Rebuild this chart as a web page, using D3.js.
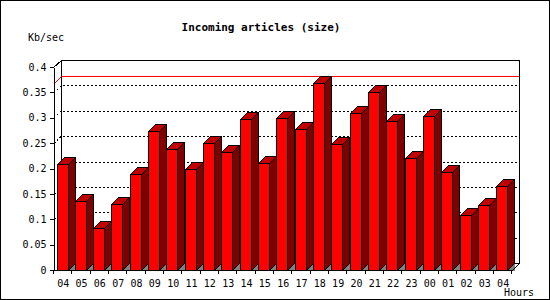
<!DOCTYPE html>
<html>
<head>
<meta charset="utf-8">
<script src="https://cdn.jsdelivr.net/npm/d3@7"></script>
<style>
  body { margin: 0; background: #fff; }
  text { font-family: "DejaVu Sans Mono", monospace; fill: #000; }
</style>
</head>
<body>
<script>
'use strict';

// hour labels along the bottom
const hours = ["04", "05", "06", "07", "08", "09", "10", "11", "12", "13", "14", "15", "16",
  "17", "18", "19", "20", "21", "22", "23", "00", "01", "02", "03", "04"];
// Kb/sec per hour
const values = [0.208, 0.135, 0.082, 0.131, 0.189, 0.273, 0.238, 0.200, 0.250, 0.232, 0.297, 0.210,
  0.299, 0.277, 0.368, 0.248, 0.309, 0.350, 0.293, 0.220, 0.303, 0.193, 0.108, 0.129, 0.165];
const yTicks = [0, 0.05, 0.1, 0.15, 0.2, 0.25, 0.3, 0.35, 0.4];
const gridTicks = [0.05, 0.1, 0.15, 0.2, 0.25, 0.3, 0.35];

const depth = 7; // 3d offset
const barW = 11;

const svg = d3.select('body').append('svg')
  .attr('width', 550)
  .attr('height', 300)
  .attr('shape-rendering', 'crispEdges');

// frame
svg.append('rect')
  .attr('x', 0.5).attr('y', 0.5)
  .attr('width', 549).attr('height', 299)
  .attr('fill', '#fff').attr('stroke', '#000');

let x = d3.scaleBand()
  .domain(d3.range(hours.length))
  .range([54, 512.3]);

let y = d3.scaleLinear()
  .domain([0, 0.4])
  .range([270, 67]);

const left = x.range()[0], right = x.range()[1];

// back wall
svg.append('rect')
  .attr('x', left + depth + 0.5).attr('y', y(0.4) - depth + 0.5)
  .attr('width', right - left).attr('height', y(0) - y(0.4))
  .attr('fill', 'none').attr('stroke', '#000');

// dotted grid on the back wall
gridTicks.forEach(function (t) {
  svg.append('path')
    .attr('d', 'M' + left + ',' + (y(t) + 0.5) + 'L' + (left + depth) + ',' + (y(t) - depth + 0.5)
      + 'L' + (right + depth) + ',' + (y(t) - depth + 0.5))
    .attr('fill', 'none')
    .attr('stroke', '#000')
    .attr('stroke-dasharray', '2,2');
});

// max line
const maxV = d3.max(values);
svg.append('path')
  .attr('d', 'M' + left + ',' + (y(maxV) + 0.5) + 'L' + (left + depth) + ',' + (y(maxV) - depth + 0.5)
    + 'L' + (right + depth) + ',' + (y(maxV) - depth + 0.5))
  .attr('fill', 'none')
  .attr('stroke', '#ff0000');

// bars
const bars = svg.append('g');
values.forEach(function (v, i) {
  const x0 = Math.round(x(i) + 2.5) + 0.5;
  const x1 = x0 + barW;
  const yt = Math.round(y(v)) + 0.5;
  const yb = y(0) + 0.5;
  // floor shadow
  bars.append('path')
    .attr('d', 'M' + x1 + ',' + yb + 'L' + (x1 + depth) + ',' + (yb - depth) + 'L' + (x1 + depth) + ',' + yb + 'Z')
    .attr('fill', '#808080');
  // side
  bars.append('path')
    .attr('d', 'M' + x1 + ',' + yt + 'L' + (x1 + depth) + ',' + (yt - depth)
      + 'L' + (x1 + depth) + ',' + (yb - depth) + 'L' + x1 + ',' + yb + 'Z')
    .attr('fill', '#800000').attr('stroke', '#000');
  // top
  bars.append('path')
    .attr('d', 'M' + x0 + ',' + yt + 'L' + (x0 + depth) + ',' + (yt - depth)
      + 'L' + (x1 + depth) + ',' + (yt - depth) + 'L' + x1 + ',' + yt + 'Z')
    .attr('fill', '#c00000').attr('stroke', '#000');
  // front
  bars.append('rect')
    .attr('x', x0).attr('y', yt)
    .attr('width', barW).attr('height', yb - yt)
    .attr('fill', '#ff0000').attr('stroke', '#000');
});

// y axis
let yAxis = d3.axisLeft(y)
  .tickValues(yTicks)
  .tickSize(4)
  .tickSizeOuter(0)
  .tickPadding(3)
  .tickFormat(d => String(d));
const gy = svg.append('g')
  .attr('transform', 'translate(' + (left - 0.5) + ',0)')
  .call(yAxis);
gy.selectAll('text').style('font-size', '10px').attr('font-family', null);
gy.select('.domain').attr('stroke', '#000');

// top-left corner diagonal
svg.append('path')
  .attr('d', 'M' + (left - 0.5) + ',' + (y(0.4) + 0.5) + 'L' + (left + depth + 0.5) + ',' + (y(0.4) - depth + 0.5))
  .attr('stroke', '#000').attr('fill', 'none');

// x axis line + floor right diagonal
svg.append('path')
  .attr('d', 'M' + left + ',' + (y(0) + 0.5) + 'L' + right + ',' + (y(0) + 0.5)
    + 'L' + (right + depth) + ',' + (y(0) - depth + 0.5))
  .attr('stroke', '#000').attr('fill', 'none');

// x ticks on slot boundaries
d3.range(hours.length + 1).forEach(function (i) {
  const tx = Math.round(left + i * x.step()) - 0.5;
  svg.append('line')
    .attr('x1', tx).attr('x2', tx)
    .attr('y1', y(0)).attr('y2', y(0) + 4)
    .attr('stroke', '#000');
});

svg.append('g').selectAll('text')
  .data(hours)
  .enter()
  .append('text')
  .attr('x', (d, i) => x(i) + x.bandwidth() / 2)
  .attr('y', 287)
  .attr('text-anchor', 'middle')
  .style('font-size', '10px')
  .text(d => d);

// labels
svg.append('text')
  .attr('x', 261)
  .attr('y', 31)
  .attr('text-anchor', 'middle')
  .style('font-size', '11px')
  .style('font-weight', 'bold')
  .text('Incoming articles (size)');

svg.append('text')
  .attr('x', 28)
  .attr('y', 41)
  .style('font-size', '10px')
  .text('Kb/sec');

svg.append('text')
  .attr('x', 534)
  .attr('y', 296)
  .attr('text-anchor', 'end')
  .style('font-size', '10px')
  .text('Hours');
</script>
</body>
</html>
